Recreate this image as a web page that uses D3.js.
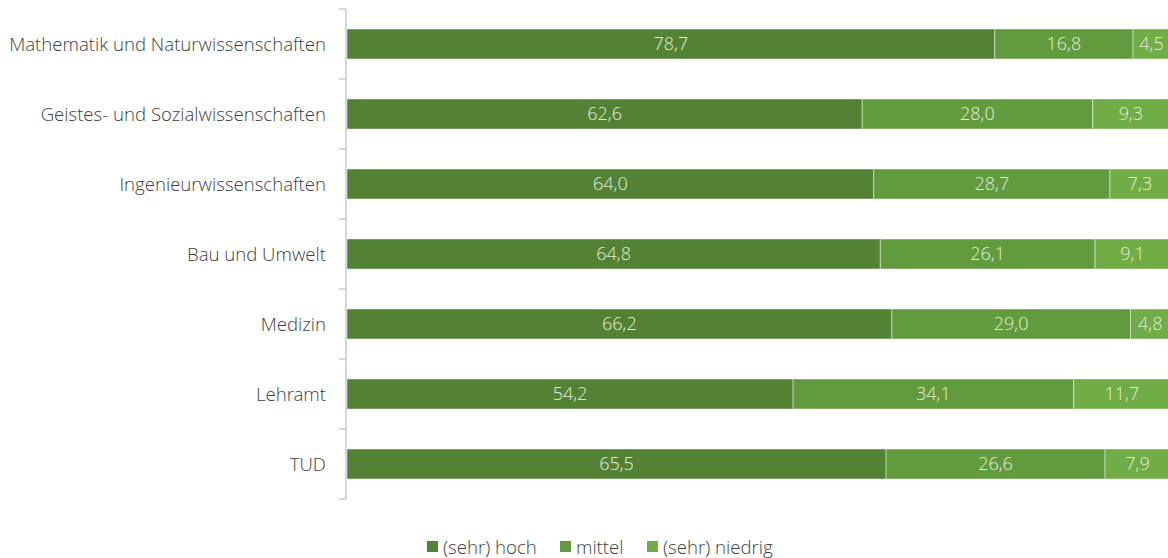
<!DOCTYPE html>
<html><head><meta charset="utf-8">
<script src="https://cdn.jsdelivr.net/npm/d3@7"></script>
<style>
body{margin:0;background:#fff;}
svg text{font-family:"Open Sans Light","Open Sans",sans-serif;font-weight:300;}
</style></head>
<body><svg id="c" width="1168" height="558"></svg>
<script>
const categories = ["Mathematik und Naturwissenschaften","Geistes- und Sozialwissenschaften","Ingenieurwissenschaften","Bau und Umwelt","Medizin","Lehramt","TUD"];
const seriesNames = ["(sehr) hoch","mittel","(sehr) niedrig"];
const hoch = [78.7,62.6,64.0,64.8,66.2,54.2,65.5];
const mittel = [16.8,28.0,28.7,26.1,29.0,34.1,26.6];
const niedrig = [4.5,9.3,7.3,9.1,4.8,11.7,7.9];
const colors = ["#548235","#629B3E","#70AD47"];

const svg = d3.select("#c");
const x = d3.scaleLinear().domain([0,100]).range([347,1170]);
const y = d3.scaleBand().domain(categories).range([9,499]).paddingInner(0.5714).paddingOuter(0.2857);

const rows = categories.map((c,i)=>({cat:c, vals:[hoch[i],mittel[i],niedrig[i]]}));
const stack = d3.stack().keys([0,1,2]).value((d,k)=>d.vals[k]);
const layers = stack(rows);

const g = svg.append("g");
layers.forEach((layer,k)=>{
  g.selectAll(null).data(layer).enter().append("rect")
    .attr("x",d=>x(d[0])).attr("y",d=>y(d.data.cat))
    .attr("width",d=>x(d[1])-x(d[0])).attr("height",y.bandwidth())
    .attr("fill",colors[k]).attr("stroke","rgba(255,255,255,0.45)").attr("stroke-width",1);
  g.selectAll(null).data(layer).enter().append("text")
    .attr("x",d=>(x(d[0])+x(d[1]))/2).attr("y",d=>y(d.data.cat)+y.bandwidth()/2)
    .attr("dy","0.35em").attr("text-anchor","middle")
    .attr("fill","#e3ecdb").style("font-size","18px")
    .text(d=>d3.format(".1f")(d[1]-d[0]).replace(".",","));
});

// axis
const axisG = svg.append("g").attr("transform","translate(346,0)");
axisG.append("line").attr("x1",0).attr("x2",0).attr("y1",9).attr("y2",499)
  .attr("stroke","#c9c9d9").attr("stroke-width",1.5);
axisG.selectAll(null).data(d3.range(categories.length+1)).enter().append("line")
  .attr("x1",-7).attr("x2",0)
  .attr("y1",i=>9+i*y.step()).attr("y2",i=>9+i*y.step())
  .attr("stroke","#c9c9d9").attr("stroke-width",1.5);
svg.selectAll(null).data(categories).enter().append("text")
  .attr("x",326).attr("y",c=>y(c)+y.bandwidth()/2).attr("dy","0.35em")
  .attr("text-anchor","end").attr("fill","#404040").style("font-size","18.6px")
  .text(c=>c);

// legend
const legX = [427,560,647];
const lg = svg.append("g");
seriesNames.forEach((s,k)=>{
  lg.append("rect").attr("x",legX[k]).attr("y",541).attr("width",11).attr("height",11).attr("fill",colors[k]);
  lg.append("text").attr("x",legX[k]+16).attr("y",547).attr("dy","0.35em").attr("fill","#404040").style("font-size","18.6px").text(s);
});
</script></body></html>
